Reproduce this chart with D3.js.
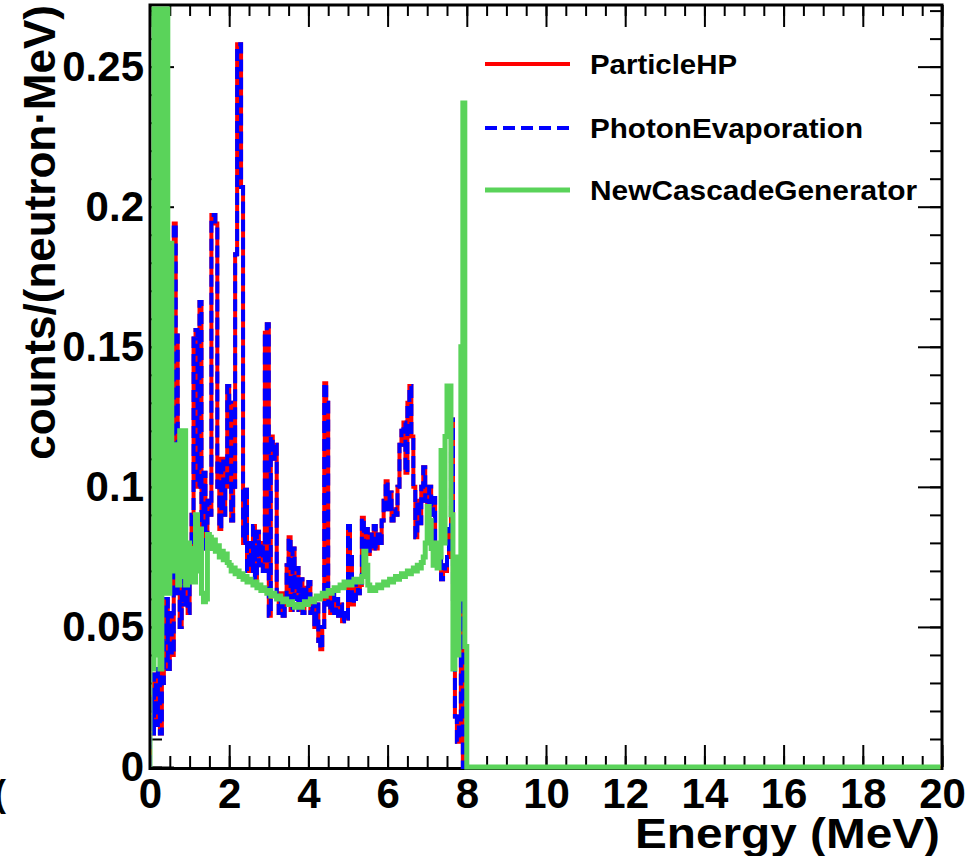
<!DOCTYPE html>
<html>
<head>
<meta charset="utf-8">
<script src="https://cdn.jsdelivr.net/npm/d3@7"></script>
<style>
body { margin: 0; background: #fff; }
svg { display: block; }
text { font-family: "Liberation Sans", Arial, sans-serif; font-weight: bold; fill: #000; }
</style>
</head>
<body>
<script>
// canvas + frame of the plot
var width = 970, height = 856;
var plotLeft = 150, plotRight = 942, plotTop = 5, plotBottom = 767;

// histogram binning: 0.05 MeV bins from 0, axis runs to 20 MeV
var binWidth = 0.05;
var xMax = 20;
var yMax = 0.272;

// counts/(neutron MeV) per 0.05 MeV bin, 0 .. 8.1 MeV (empty above)
var particleHP = [
	0.025, 0.012, 0.033, 0.015, 0.035, 0.012, 0.03, 0.045, 0.06, 0.035,
	0.055, 0.04, 0.194, 0.154, 0.062, 0.05, 0.068, 0.058, 0.065, 0.055,
	0.07, 0.09, 0.153, 0.156, 0.1, 0.166, 0.085, 0.105, 0.078, 0.095,
	0.09, 0.197, 0.197, 0.194, 0.1, 0.085, 0.11, 0.09, 0.1, 0.136,
	0.13, 0.088, 0.1, 0.183, 0.258, 0.258, 0.207, 0.08, 0.099, 0.07,
	0.08, 0.07, 0.086, 0.067, 0.084, 0.072, 0.08, 0.07, 0.155, 0.158,
	0.054, 0.118, 0.11, 0.115, 0.06, 0.055, 0.062, 0.054, 0.06, 0.072,
	0.082, 0.056, 0.078, 0.06, 0.071, 0.056, 0.067, 0.055, 0.064, 0.058,
	0.066, 0.055, 0.06, 0.05, 0.058, 0.045, 0.042, 0.05, 0.137, 0.13,
	0.058, 0.055, 0.062, 0.055, 0.06, 0.054, 0.058, 0.052, 0.055, 0.053,
	0.086, 0.075, 0.058, 0.06, 0.067, 0.062, 0.065, 0.089, 0.073, 0.085,
	0.076, 0.083, 0.078, 0.086, 0.078, 0.083, 0.08, 0.088, 0.095, 0.102,
	0.092, 0.098, 0.088, 0.092, 0.09, 0.1, 0.115, 0.12, 0.123, 0.105,
	0.13, 0.136, 0.118, 0.1, 0.082, 0.095, 0.087, 0.1, 0.107, 0.095,
	0.082, 0.1, 0.09, 0.096, 0.08, 0.072, 0.076, 0.067, 0.072, 0.07,
	0.075, 0.085, 0.124, 0.06, 0.018, 0.009, 0.015, 0.07, 0, 0,
	0, 0
];
// PhotonEvaporation lies exactly on top of ParticleHP in the picture
var photonEvaporation = particleHP.slice();

var newCascadeGenerator = [
	0.3, 0.035, 0.3, 0.04, 0.3, 0.035, 0.3, 0.062, 0.3, 0.062,
	0.187, 0.09, 0.07, 0.115, 0.065, 0.12, 0.068, 0.12, 0.065, 0.08,
	0.066, 0.078, 0.066, 0.09, 0.07, 0.085, 0.062, 0.059, 0.06, 0.083,
	0.082, 0.078, 0.081, 0.077, 0.079, 0.075, 0.077, 0.074, 0.076, 0.073,
	0.072, 0.07, 0.071, 0.069, 0.07, 0.068, 0.069, 0.067, 0.068, 0.066,
	0.067, 0.066, 0.065, 0.066, 0.064, 0.065, 0.063, 0.064, 0.063, 0.062,
	0.063, 0.061, 0.062, 0.061, 0.06, 0.061, 0.06, 0.059, 0.06, 0.059,
	0.058, 0.059, 0.058, 0.057, 0.058, 0.058, 0.057, 0.058, 0.059, 0.058,
	0.059, 0.06, 0.059, 0.06, 0.061, 0.06, 0.061, 0.062, 0.061, 0.062,
	0.063, 0.062, 0.063, 0.064, 0.063, 0.064, 0.065, 0.064, 0.066, 0.065,
	0.066, 0.065, 0.066, 0.067, 0.066, 0.067, 0.066, 0.068, 0.077, 0.072,
	0.065, 0.063, 0.064, 0.063, 0.064, 0.065, 0.064, 0.065, 0.066, 0.065,
	0.066, 0.067, 0.066, 0.067, 0.068, 0.067, 0.068, 0.069, 0.068, 0.069,
	0.07, 0.069, 0.07, 0.071, 0.07, 0.072, 0.071, 0.073, 0.075, 0.08,
	0.093, 0.088, 0.078, 0.072, 0.08, 0.071, 0.075, 0.113, 0.08, 0.118,
	0.136, 0.136, 0.09, 0.035, 0.075, 0.04, 0.06, 0.15, 0.237, 0.043,
	0, 0
];

var xMajorTicks = [0, 2, 4, 6, 8, 10, 12, 14, 16, 18, 20];
var yMajorTicks = [0, 0.05, 0.1, 0.15, 0.2, 0.25];
var yTickLabels = ["0", "0.05", "0.1", "0.15", "0.2", "0.25"];

var series = [
	{ name: "ParticleHP", values: particleHP, color: "#ff0000", dash: null, w: 4 },
	{ name: "PhotonEvaporation", values: photonEvaporation, color: "#0000ff", dash: "12,6", w: 4 },
	{ name: "NewCascadeGenerator", values: newCascadeGenerator, color: "#5ad35a", dash: null, w: 5 }
];

var svg = d3.select('body').append('svg').attr('width', width).attr('height', height);

var x = d3.scaleLinear().domain([0, xMax]).range([plotLeft, plotRight]);
var y = d3.scaleLinear().domain([0, yMax]).range([plotBottom, plotTop]);

svg.append('defs').append('clipPath').attr('id', 'clip')
	.append('rect').attr('x', plotLeft + 1.5).attr('y', plotTop + 1.5)
	.attr('width', plotRight - plotLeft - 3).attr('height', plotBottom - plotTop + 10);

// ticks, all pointing into the frame
function styleAxis(g) {
	g.select('.domain').remove();
	g.selectAll('.tick line').attr('stroke', '#000').attr('stroke-width', 2);
}
var xMinor = d3.range(0, xMax + 0.01, 0.5);
var yMinor = d3.range(0, yMax, 0.01);

svg.append('g').attr('transform', 'translate(0,' + plotBottom + ')')
	.call(d3.axisBottom(x).tickValues(xMinor).tickSize(-11).tickFormat(''))
	.call(styleAxis);
svg.append('g').attr('transform', 'translate(0,' + plotTop + ')')
	.call(d3.axisTop(x).tickValues(xMinor).tickSize(-11).tickFormat(''))
	.call(styleAxis);
svg.append('g').attr('transform', 'translate(' + plotLeft + ',0)')
	.call(d3.axisLeft(y).tickValues(yMinor).tickSize(-12).tickFormat(''))
	.call(styleAxis);
svg.append('g').attr('transform', 'translate(' + plotRight + ',0)')
	.call(d3.axisRight(y).tickValues(yMinor).tickSize(-12).tickFormat(''))
	.call(styleAxis);

var xAxis = svg.append('g').attr('transform', 'translate(0,' + plotBottom + ')')
	.call(d3.axisBottom(x).tickValues(xMajorTicks).tickSize(-22).tickPadding(11).tickFormat(d3.format('d')))
	.call(styleAxis);
xAxis.selectAll('text').attr('font-size', 42).attr('fill', '#000').attr('font-family', null);
svg.append('g').attr('transform', 'translate(0,' + plotTop + ')')
	.call(d3.axisTop(x).tickValues(xMajorTicks).tickSize(-22).tickFormat(''))
	.call(styleAxis);

var yAxis = svg.append('g').attr('transform', 'translate(' + plotLeft + ',0)')
	.call(d3.axisLeft(y).tickValues(yMajorTicks).tickSize(-24).tickPadding(6)
		.tickFormat((d, i) => yTickLabels[i]))
	.call(styleAxis);
yAxis.selectAll('text').attr('font-size', 42).attr('fill', '#000').attr('font-family', null);
svg.append('g').attr('transform', 'translate(' + plotRight + ',0)')
	.call(d3.axisRight(y).tickValues(yMajorTicks).tickSize(-24).tickFormat(''))
	.call(styleAxis);

// frame
svg.append('rect').attr('x', plotLeft).attr('y', plotTop)
	.attr('width', plotRight - plotLeft).attr('height', plotBottom - plotTop + 1.5)
	.attr('fill', 'none').attr('stroke', '#000').attr('stroke-width', 3);

// histograms as step lines
var line = d3.line().x(d => x(d.e)).y(d => y(d.v)).curve(d3.curveStepAfter);
function histPoints(vals) {
	var pts = [{ e: 0, v: 0 }];
	vals.forEach((v, i) => pts.push({ e: i * binWidth, v: v }));
	pts.push({ e: vals.length * binWidth, v: 0 });
	pts.push({ e: xMax, v: 0 });
	return pts;
}
var plot = svg.append('g').attr('clip-path', 'url(#clip)');
series.forEach(s => {
	plot.append('path').attr('d', line(histPoints(s.values)))
		.attr('fill', 'none').attr('stroke', s.color).attr('stroke-width', s.w)
		.attr('stroke-dasharray', s.dash).attr('stroke-linejoin', 'miter');
});

// legend
var legend = svg.append('g');
var legendRows = [64, 128, 190];
var legendWidths = [147, 273, 327];
series.forEach((s, i) => {
	legend.append('line').attr('x1', 485).attr('x2', 570)
		.attr('y1', legendRows[i]).attr('y2', legendRows[i])
		.attr('stroke', s.color).attr('stroke-width', s.w).attr('stroke-dasharray', s.dash);
	legend.append('text').attr('x', 590).attr('y', legendRows[i] + 10)
		.attr('font-size', 28).attr('textLength', legendWidths[i]).attr('lengthAdjust', 'spacingAndGlyphs')
		.text(s.name);
});

// axis titles
svg.append('text').attr('text-anchor', 'end')
	.attr('transform', 'translate(55,' + plotTop + ') rotate(-90)')
	.attr('font-size', 44).text('counts/(neutron\u00b7MeV)');
svg.append('text').attr('text-anchor', 'end').attr('x', 940).attr('y', 848)
	.attr('font-size', 42).attr('textLength', 305).attr('lengthAdjust', 'spacingAndGlyphs')
	.text('Energy (MeV)');
svg.append('text').attr('x', -6).attr('y', 806).attr('font-size', 36).text('(');
</script>
</body>
</html>
